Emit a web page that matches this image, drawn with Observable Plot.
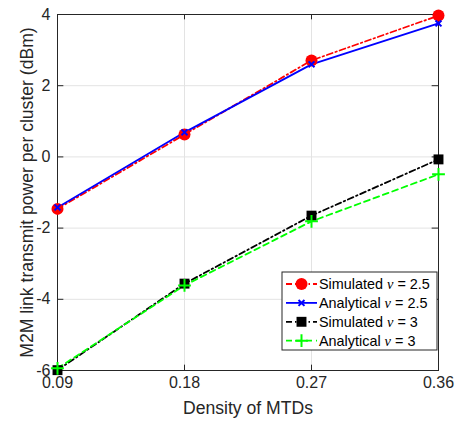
<!DOCTYPE html>
<html>
<head>
<meta charset="utf-8">
<script src="https://cdn.jsdelivr.net/npm/d3@7"></script>
<script src="https://cdn.jsdelivr.net/npm/@observablehq/plot@0.6"></script>
<style>
  html, body { margin: 0; padding: 0; background: #fff; }
  #chart svg { display: block; }
</style>
</head>
<body>
<div id="chart"></div>
<script>
const density = [0.09, 0.18, 0.27, 0.36];
const simulated25 = [-1.46, 0.63, 2.71, 3.97];
const analytical25 = [-1.42, 0.69, 2.60, 3.75];
const simulated3 = [-5.99, -3.56, -1.65, -0.07];
const analytical3 = [-5.94, -3.61, -1.81, -0.49];
const xTicks = [0.09, 0.18, 0.27, 0.36];
const yTicks = [-6, -4, -2, 0, 2, 4];

const seriesNames = ["Simulated", "Analytical", "Simulated", "Analytical"];
const seriesNu = ["2.5", "2.5", "3", "3"];
const seriesColors = ["#ff0000", "#0000ff", "#000000", "#00ff00"];
const seriesDash = ["6,3,1.5,3", null, "6,3,1.5,3", "6,4"];
const seriesSymbol = ["circle", "times", "square", "plus"];
const seriesValues = [simulated25, analytical25, simulated3, analytical3];

const series = seriesValues.map((vals, i) =>
  density.map((d, j) => ({x: d, y: vals[j], s: i}))
);

const fontFamily = "'Liberation Sans', Arial, Helvetica, sans-serif";
const axisColor = "#262626";
const tickLenX = 0.15;   // in y data units
const tickLenY = 0.0045; // in x data units
const symR = {circle: 6, times: 2.8, square: 5.6, plus: 4.2};

const marks = [
  Plot.gridX(xTicks, {stroke: "#e3e3e3", strokeOpacity: 1}),
  Plot.gridY(yTicks, {stroke: "#e3e3e3", strokeOpacity: 1}),
  Plot.frame({stroke: axisColor, strokeWidth: 1}),
  Plot.ruleX(xTicks, {y1: -6, y2: -6 + tickLenX, stroke: axisColor}),
  Plot.ruleX(xTicks, {y1: 4, y2: 4 - tickLenX, stroke: axisColor}),
  Plot.ruleY(yTicks, {x1: 0.09, x2: 0.09 + tickLenY, stroke: axisColor}),
  Plot.ruleY(yTicks, {x1: 0.36, x2: 0.36 - tickLenY, stroke: axisColor}),
  Plot.axisX(xTicks, {
    tickSize: 0, tickPadding: 6, tickFormat: d => d.toFixed(2),
    fontSize: 16, color: axisColor,
    label: "Density of MTDs", labelAnchor: "center", labelArrow: "none", labelOffset: 43
  }),
  Plot.axisY(yTicks, {
    tickSize: 0, tickPadding: 7, tickFormat: d => String(d),
    fontSize: 16, color: axisColor,
    label: "M2M link transmit power per cluster (dBm)", labelAnchor: "center", labelArrow: "none", labelOffset: 37
  })
];

series.forEach((data, i) => {
  marks.push(Plot.line(data, {
    x: "x", y: "y", stroke: seriesColors[i], strokeWidth: 1.8,
    strokeDasharray: seriesDash[i] || undefined
  }));
});
series.forEach((data, i) => {
  const sym = seriesSymbol[i];
  const filled = sym === "circle" || sym === "square";
  marks.push(Plot.dot(data, {
    x: "x", y: "y", symbol: sym, r: symR[sym],
    fill: filled ? seriesColors[i] : "none",
    stroke: filled ? "none" : seriesColors[i],
    strokeWidth: filled ? 0 : 2
  }));
});

const chart = Plot.plot({
  width: 459, height: 421,
  marginLeft: 57, marginRight: 21, marginTop: 14, marginBottom: 51,
  x: {domain: [0.09, 0.36]},
  y: {domain: [-6, 4]},
  style: {fontFamily: fontFamily, background: "#fff"},
  marks
});

const svg = d3.select(chart);
svg.selectAll('g[aria-label="x-axis tick label"] text, g[aria-label="y-axis tick label"] text')
  .style("font-size", "16px");
svg.selectAll('g[aria-label="x-axis label"] text, g[aria-label="y-axis label"] text')
  .style("font-size", "17.6px");

// Legend inside the plot, bottom right
const lg = svg.append("g").attr("font-family", fontFamily).attr("font-size", 14.4)
  .attr("text-anchor", "start");
const lx = 282, ly = 272, lw = 155, lh = 78;
lg.append("rect").attr("x", lx).attr("y", ly).attr("width", lw).attr("height", lh)
  .attr("fill", "#fff").attr("stroke", axisColor).attr("stroke-width", 1);
seriesNames.forEach((name, i) => {
  const cy = ly + 12 + i * 18.9;
  lg.append("line").attr("x1", lx + 4).attr("x2", lx + 35).attr("y1", cy).attr("y2", cy)
    .attr("stroke", seriesColors[i]).attr("stroke-width", 1.8)
    .attr("stroke-dasharray", seriesDash[i] || null);
  const symName = seriesSymbol[i];
  const sym = d3.symbol().type({
    circle: d3.symbolCircle, times: d3.symbolTimes, square: d3.symbolSquare, plus: d3.symbolPlus
  }[symName]);
  const r = symR[symName];
  const filled = symName === "circle" || symName === "square";
  lg.append("path").attr("d", sym.size(Math.PI * r * r)())
    .attr("transform", `translate(${lx + 19.5},${cy})`)
    .attr("fill", filled ? seriesColors[i] : "none")
    .attr("stroke", filled ? "none" : seriesColors[i])
    .attr("stroke-width", filled ? 0 : 2);
  const t = lg.append("text").attr("x", lx + 37).attr("y", cy).attr("dy", "0.35em").attr("fill", "#000");
  t.append("tspan").text(name + " ");
  t.append("tspan").attr("font-family", "'Liberation Serif', 'DejaVu Serif', serif")
    .attr("font-style", "italic").text("ν");
  t.append("tspan").text(" = " + seriesNu[i]);
});

document.getElementById("chart").appendChild(chart);
</script>
</body>
</html>
